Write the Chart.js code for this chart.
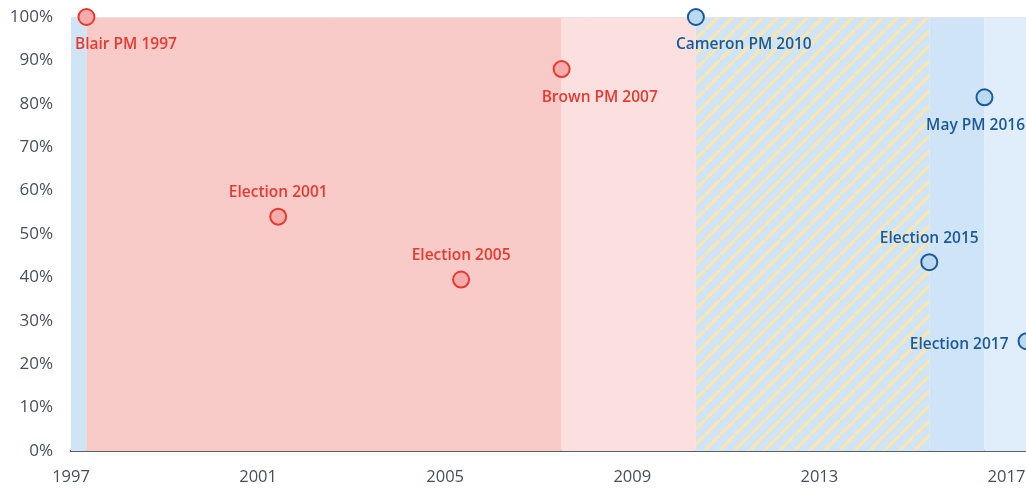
<!DOCTYPE html>
<html>
<head>
<meta charset="utf-8">
<script src="https://cdn.jsdelivr.net/npm/chart.js@4"></script>
<style>
  html, body { margin: 0; padding: 0; background: #fff; overflow: hidden; }
  #wrap { position: relative; width: 1110px; height: 488px; }
</style>
</head>
<body>
<div id="wrap"><canvas id="chart"></canvas></div>
<script>
// ==========================
// Data
// ==========================
const eventNames = ['Blair PM 1997', 'Election 2001', 'Election 2005', 'Brown PM 2007',
                    'Cameron PM 2010', 'Election 2015', 'May PM 2016', 'Election 2017'];
const eventYears = [1997.33, 2001.43, 2005.34, 2007.49, 2010.36, 2015.35, 2016.53, 2017.43];
const eventValues = [100, 54, 39.5, 88, 100, 43.5, 81.5, 25.3];
const eventParty = ['lab', 'lab', 'lab', 'lab', 'con', 'con', 'con', 'con'];
const eventPlacement = ['below', 'above', 'above', 'below', 'below', 'above', 'below', 'left'];

const periodStart = [1997, 1997.33, 2007.49, 2010.36, 2015.35, 2016.53];
const periodEnd = [1997.33, 2007.49, 2010.36, 2015.35, 2016.53, 2019];
const periodKind = ['major', 'blair', 'brown', 'coalition', 'cameron', 'may'];

const xTicks = [1997, 2001, 2005, 2009, 2013, 2017];
const yTicks = [0, 10, 20, 30, 40, 50, 60, 70, 80, 90, 100];

// ==========================
// Styles
// ==========================
const partyStroke = { lab: '#e8392f', con: '#1b5a9a' };
const partyFill = { lab: '#f5acaa', con: '#bcd9f3' };

function hatchPattern() {
    const n = 15;
    const c = document.createElement('canvas');
    c.width = n; c.height = n;
    const g = c.getContext('2d');
    g.fillStyle = '#cfe4f7';
    g.fillRect(0, 0, n, n);
    g.strokeStyle = '#fde6ad';
    g.lineWidth = 3.2;
    g.beginPath();
    g.moveTo(-3, n + 3); g.lineTo(n + 3, -3);
    g.moveTo(-n - 3, 3); g.lineTo(3, -n - 3);
    g.moveTo(n - 3, 2 * n + 3); g.lineTo(2 * n + 3, n - 3);
    g.stroke();
    return g.createPattern(c, 'repeat');
}

const periodColor = {
    major: '#cfe4f7',
    blair: '#f8cbc8',
    brown: '#fce0df',
    coalition: hatchPattern(),
    cameron: '#cfe4f7',
    may: '#dfeefa'
};

// ==========================
// Plugins
// ==========================
const bandsPlugin = {
    id: 'bands',
    beforeDatasetsDraw(chart) {
        const { ctx, chartArea, scales } = chart;
        const x = scales.x, y = scales.y;
        const top = y.getPixelForValue(100) + 1;
        const bottom = y.getPixelForValue(0);
        ctx.save();
        periodStart.forEach((s, i) => {
            const x0 = x.getPixelForValue(s);
            const x1 = Math.min(x.getPixelForValue(periodEnd[i]), chartArea.right);
            ctx.fillStyle = periodColor[periodKind[i]];
            ctx.fillRect(x0, top, x1 - x0, bottom - top);
        });
        ctx.restore();
    }
};

const labelsPlugin = {
    id: 'eventLabels',
    afterDatasetsDraw(chart) {
        const { ctx, chartArea } = chart;
        const meta = chart.getDatasetMeta(0);
        const visibleRight = Math.min(chartArea.right, document.documentElement.clientWidth) - 1;
        ctx.save();
        ctx.font = '600 15.5px "Open Sans"';
        ctx.textBaseline = 'middle';
        meta.data.forEach((pt, i) => {
            const text = eventNames[i];
            const w = ctx.measureText(text).width;
            let left, y;
            if (eventPlacement[i] === 'above') {
                left = pt.x - w / 2;
                y = pt.y - 24;
            } else if (eventPlacement[i] === 'below') {
                left = pt.x - 20;
                y = pt.y + 28;
            } else {
                left = pt.x - 18 - w;
                y = pt.y + 3;
            }
            left = Math.max(chartArea.left + 4, Math.min(left, visibleRight - w));
            ctx.fillStyle = partyStroke[eventParty[i]];
            ctx.textAlign = 'left';
            ctx.fillText(text, left, y);
        });
        ctx.restore();
    }
};

// ==========================
// Chart
// ==========================
const points = eventYears.map((yr, i) => ({ x: yr, y: eventValues[i] }));

new Chart(document.getElementById('chart'), {
    type: 'scatter',
    data: {
        datasets: [{
            data: points,
            pointRadius: 8,
            pointHoverRadius: 8,
            pointBorderWidth: 2,
            pointBackgroundColor: eventParty.map(p => partyFill[p]),
            pointBorderColor: eventParty.map(p => partyStroke[p]),
            clip: false
        }]
    },
    options: {
        responsive: true,
        maintainAspectRatio: false,
        animation: false,
        layout: { padding: { top: 17, right: 7, left: 0, bottom: 0 } },
        plugins: { legend: { display: false }, tooltip: { enabled: false } },
        scales: {
            x: {
                type: 'linear',
                min: 1997,
                max: 2019,
                afterBuildTicks: s => { s.ticks = xTicks.map(v => ({ value: v })); },
                afterFit: s => { s.height = 37; },
                grid: { display: false, drawTicks: false },
                border: { display: true, color: '#56616c', width: 2 },
                ticks: {
                    padding: 16,
                    color: '#47505a',
                    font: { family: 'Open Sans', size: 16.5 },
                    callback: v => String(v)
                }
            },
            y: {
                min: 0,
                max: 100,
                afterBuildTicks: s => { s.ticks = yTicks.map(v => ({ value: v })); },
                afterFit: s => { s.width = 71; s.paddingTop = 0; s.paddingBottom = 0; },
                grid: { color: '#e4e4e4', drawTicks: false },
                border: { display: false },
                ticks: {
                    padding: 18,
                    color: '#47505a',
                    font: { family: 'Open Sans', size: 17 },
                    callback: v => v + '%'
                }
            }
        }
    },
    plugins: [bandsPlugin, labelsPlugin]
});
</script>
</body>
</html>
